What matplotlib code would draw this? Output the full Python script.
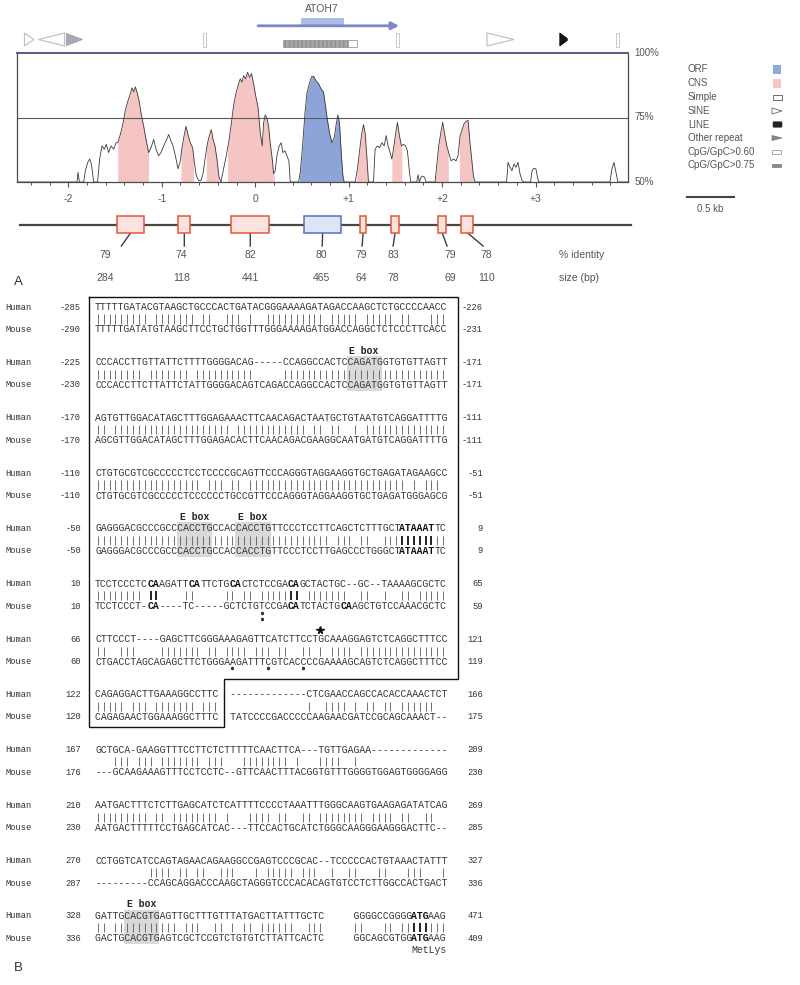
import numpy as np
import matplotlib
matplotlib.use('Agg')
import matplotlib.pyplot as plt
from matplotlib.patches import Rectangle, Polygon, FancyBboxPatch
from matplotlib import font_manager

# ---------------- panel A data ----------------
# human/mouse conservation profile: position (kb) and % identity
cons_kb = [-2.55, -1.907, -1.897, -1.882, -1.836, -1.818, -1.793, -1.772, -1.754, -1.729,
           -1.687, -1.666, -1.640, -1.615, -1.594, -1.569, -1.544, -1.515, -1.490, -1.472,
           -1.444, -1.415, -1.390, -1.365, -1.337, -1.319, -1.301, -1.283, -1.266, -1.241,
           -1.219, -1.194, -1.169, -1.141, -1.116, -1.087, -1.062, -1.034, -1.009, -0.980,
           -0.955, -0.927, -0.902, -0.880, -0.855, -0.827, -0.802, -0.784, -0.766, -0.741,
           -0.720, -0.695, -0.670, -0.652, -0.631, -0.606, -0.581, -0.559, -0.535, -0.510,
           -0.488, -0.470, -0.452, -0.431, -0.410, -0.388, -0.367, -0.338, -0.310, -0.285,
           -0.260, -0.231, -0.203, -0.178, -0.160, -0.142, -0.125, -0.103, -0.082, -0.060,
           -0.039, -0.018, 0.007, 0.029, 0.054, 0.075, 0.089, 0.107, 0.125, 0.143,
           0.160, 0.182, 0.196, 0.214, 0.232, 0.257, 0.278, 0.296, 0.318, 0.339,
           0.360, 0.375, 0.464, 0.482, 0.507, 0.532, 0.553, 0.578, 0.603, 0.624,
           0.649, 0.678, 0.703, 0.731, 0.767, 0.795, 0.820, 0.845, 0.866, 0.884,
           0.902, 0.920, 0.938, 0.952, 1.070, 1.094, 1.123, 1.141, 1.159, 1.176,
           1.194, 1.212, 1.266, 1.283, 1.308, 1.330, 1.355, 1.380, 1.401, 1.422,
           1.444, 1.462, 1.480, 1.501, 1.522, 1.544, 1.565, 1.587, 1.608, 1.629,
           1.651, 1.665, 1.729, 1.743, 1.757, 1.775, 1.793, 1.811, 1.829, 1.925,
           1.943, 1.964, 1.986, 2.007, 2.028, 2.050, 2.071, 2.096, 2.121, 2.150,
           2.171, 2.192, 2.214, 2.235, 2.257, 2.278, 2.299, 2.317, 2.335, 2.353,
           2.691, 2.706, 2.727, 2.748, 2.770, 2.791, 2.813, 2.834, 2.855, 2.877,
           2.948, 2.963, 2.984, 3.005, 3.020, 3.034, 3.797, 3.818, 3.840, 3.861,
           3.882, 3.99]
cons_pct = [50, 50, 53.8, 50, 50, 54.4, 57.6, 58.9, 57.0, 50,
            50, 58.9, 64.0, 62.7, 64.6, 61.4, 64.0, 62.7, 65.2, 65.2,
            68.4, 72.8, 77.9, 81.1, 84.3, 86.5, 84.9, 86.9, 84.9, 81.1,
            76.0, 71.6, 66.5, 61.4, 63.3, 66.5, 62.7, 60.2, 61.4, 64.0,
            65.9, 68.4, 65.9, 64.0, 60.2, 55.1, 58.2, 63.3, 67.1, 71.6,
            68.4, 65.2, 63.3, 57.6, 52.5, 50.6, 50.6, 53.2, 59.5, 65.2,
            68.4, 70.3, 66.5, 64.0, 58.9, 51.9, 50, 55.1, 60.2, 65.2,
            71.6, 79.8, 84.9, 88.1, 90.0, 88.7, 91.2, 90.0, 92.5, 90.6,
            92.0, 88.1, 83.0, 79.2, 69.0, 64.0, 72.8, 76.0, 74.7, 71.6,
            65.2, 58.9, 53.2, 54.4, 60.2, 64.0, 65.2, 61.4, 62.1, 60.2,
            58.2, 50, 50, 53.8, 64.0, 76.6, 84.3, 88.1, 90.8, 91.0,
            89.3, 88.1, 86.2, 84.9, 75.4, 69.0, 65.2, 67.1, 72.2, 76.0,
            72.8, 61.4, 52.5, 50, 50, 55.1, 64.0, 69.0, 72.2, 69.0,
            60.2, 50, 50, 62.7, 64.0, 63.3, 65.2, 64.0, 68.0, 64.0,
            61.4, 58.9, 62.7, 68.4, 73.1, 67.8, 64.0, 64.6, 64.0, 62.1,
            53.8, 50, 50, 52.8, 50, 51.9, 52.3, 51.9, 50, 50,
            56.3, 64.0, 69.0, 73.1, 68.4, 64.0, 61.4, 58.2, 58.9, 58.2,
            60.2, 67.8, 70.3, 72.6, 73.5, 73.9, 65.2, 58.9, 52.5, 50,
            50, 57.6, 55.7, 54.4, 57.0, 55.7, 57.6, 53.2, 50.6, 50,
            50, 54.4, 55.3, 55.1, 51.9, 50, 50, 55.1, 57.6, 53.8,
            50, 50]

# shaded regions of the profile
fill_start = [-1.472, -0.795, -0.524, -0.296, 0.474, 1.087, 1.462, 1.925, 2.185]
fill_end = [-1.141, -0.660, -0.392, 0.203, 0.945, 1.212, 1.569, 2.067, 2.335]
fill_kind = ['CNS', 'CNS', 'CNS', 'CNS', 'ORF', 'CNS', 'CNS', 'CNS', 'CNS']

# conserved blocks drawn on the track below
box_start = [-1.476, -0.824, -0.257, 0.524, 1.123, 1.455, 1.957, 2.203]
box_end = [-1.187, -0.695, 0.150, 0.920, 1.187, 1.540, 2.043, 2.332]
box_kind = ['CNS', 'CNS', 'CNS', 'ORF', 'CNS', 'CNS', 'CNS', 'CNS']
box_identity = [79, 74, 82, 80, 79, 83, 79, 78]
box_size = [284, 118, 441, 465, 64, 78, 69, 110]

# gene and repeat annotation
gene_name = 'ATOH7'
gene_start, gene_end = 0.03, 1.54
orf_start, orf_end = 0.49, 0.94
rep_kind = ['SINE', 'SINE_rev', 'Other', 'Simple', 'CpG75', 'CpG60', 'Simple', 'SINE', 'LINE', 'Simple']
rep_start = [-2.47, -2.32, -2.02, -0.56, 0.30, 0.995, 1.51, 2.48, 3.26, 3.86]
rep_end = [-2.37, -2.04, -1.85, -0.53, 0.995, 1.09, 1.54, 2.77, 3.34, 3.89]

legend_labels = ['ORF', 'CNS', 'Simple', 'SINE', 'LINE', 'Other repeat', 'CpG/GpC>0.60', 'CpG/GpC>0.75']

# ---------------- panel B data ----------------
human_rows = [
    "TTTTTGATACGTAAGCTGCCCACTGATACGGGAAAAGATAGACCAAGCTCTGCCCCAACC",
    "CCCACCTTGTTATTCTTTTGGGGACAG-----CCAGGCCACTCCAGATGGTGTGTTAGTT",
    "AGTGTTGGACATAGCTTTGGAGAAACTTCAACAGACTAATGCTGTAATGTCAGGATTTTG",
    "CTGTGCGTCGCCCCCTCCTCCCCGCAGTTCCCAGGGTAGGAAGGTGCTGAGATAGAAGCC",
    "GAGGGACGCCCGCCCACCTGCCACCACCTGTTCCCTCCTTCAGCTCTTTGCTATAAATTC",
    "TCCTCCCTCCAAGATTCATTCTGCACTCTCCGACAGCTACTGC--GC--TAAAAGCGCTC",
    "CTTCCCT----GAGCTTCGGGAAAGAGTTCATCTTCCTGCAAAGGAGTCTCAGGCTTTCC",
    "CAGAGGACTTGAAAGGCCTTC  -------------CTCGAACCAGCCACACCAAACTCT",
    "GCTGCA-GAAGGTTTCCTTCTCTTTTTCAACTTCA---TGTTGAGAA-------------",
    "AATGACTTTCTCTTGAGCATCTCATTTTCCCCTAAATTTGGGCAAGTGAAGAGATATCAG",
    "CCTGGTCATCCAGTAGAACAGAAGGCCGAGTCCCGCAC--TCCCCCACTGTAAACTATTT",
    "GATTGCACGTGAGTTGCTTTGTTTATGACTTATTTGCTC     GGGGCCGGGGATGAAG",
]
mouse_rows = [
    "TTTTTGATATGTAAGCTTCCTGCTGGTTTGGGAAAAGATGGACCAGGCTCTCCCTTCACC",
    "CCCACCTTCTTATTCTATTGGGGACAGTCAGACCAGGCCACTCCAGATGGTGTGTTAGTT",
    "AGCGTTGGACATAGCTTTGGAGACACTTCAACAGACGAAGGCAATGATGTCAGGATTTTG",
    "CTGTGCGTCGCCCCCTCCCCCCTGCCGTTCCCAGGGTAGGAAGGTGCTGAGATGGGAGCG",
    "GAGGGACGCCCGCCCACCTGCCACCACCTGTTCCCTCCTTGAGCCCTGGGCTATAAATTC",
    "TCCTCCCT-CA----TC-----GCTCTGTCCGACATCTACTGCAAGCTGTCCAAACGCTC",
    "CTGACCTAGCAGAGCTTCTGGGAAGATTTCGTCACCCCGAAAAGCAGTCTCAGGCTTTCC",
    "CAGAGAACTGGAAAGGCTTTC  TATCCCCGACCCCCAAGAACGATCCGCAGCAAACT--",
    "---GCAAGAAAGTTTCCTCCTC--GTTCAACTTTACGGTGTTTGGGGTGGAGTGGGGAGG",
    "AATGACTTTTTCCTGAGCATCAC---TTCCACTGCATCTGGGCAAGGGAAGGGACTTC--",
    "---------CCAGCAGGACCCAAGCTAGGGTCCCACACAGTGTCCTCTTGGCCACTGACT",
    "GACTGCACGTGAGTCGCTCCGTCTGTGTCTTATTCACTC     GGCAGCGTGGATGAAG",
]
human_first = [-285, -225, -170, -110, -50, 10, 66, 122, 167, 210, 270, 328]
human_last = [-226, -171, -111, -51, 9, 65, 121, 166, 209, 269, 327, 471]
mouse_first = [-290, -230, -170, -110, -50, 10, 60, 120, 176, 230, 287, 336]
mouse_last = [-231, -171, -111, -51, 9, 59, 119, 175, 230, 285, 336, 409]

# bold stretches: block, species, first column, length
bold_block = [4, 4, 5, 5, 5, 5, 5, 5, 5, 11, 11]
bold_row = ['H', 'M', 'H', 'H', 'H', 'H', 'M', 'M', 'M', 'H', 'M']
bold_col = [52, 52, 9, 16, 23, 33, 9, 33, 42, 54, 54]
bold_len = [6, 6, 2, 2, 2, 2, 2, 2, 2, 3, 3]

# E boxes: block, first column
ebox_block = [1, 4, 4, 11]
ebox_col = [43, 14, 24, 5]

# asterisks under the mouse row (block, column, count) and star above human row
ast_block = [5, 6, 6, 6]
ast_col = [28, 23, 29, 35]
ast_count = [2, 1, 1, 1]
star_block, star_col = 6, 38

# ---------------- fonts ----------------
names = {f.name for f in font_manager.fontManager.ttflist}
SANS = 'Liberation Sans Narrow' if 'Liberation Sans Narrow' in names else 'Liberation Sans'
MONO = 'Liberation Mono'
plt.rcParams['font.family'] = [SANS, 'DejaVu Sans']
GREY = '#555555'

W, H = 800.0, 985.0
fig = plt.figure(figsize=(8.0, 9.85), dpi=100)
ax = fig.add_axes([0, 0, 1, 1])
ax.set_xlim(0, W)
ax.set_ylim(H, 0)
ax.axis('off')


def px_axes(x0, y0, x1, y1):
    return fig.add_axes([x0 / W, 1 - y1 / H, (x1 - x0) / W, (y1 - y0) / H])


XL = (-2.55, 3.99)

# ---------- annotation track (kb on x, pixels on y) ----------
ax_g = px_axes(17, 0, 628, 290)
ax_g.set_xlim(*XL)
ax_g.set_ylim(290, 0)
ax_g.axis('off')

ax_g.text((orf_start + orf_end) / 2, 9, gene_name, ha='center', va='center', fontsize=7.5, color=GREY)
ax_g.add_patch(Rectangle((orf_start, 18), orf_end - orf_start, 6.3, fc='#aabde6', ec='#9fb2de', lw=0.5))
ax_g.annotate('', xy=(gene_end, 25.8), xytext=(gene_start, 25.8),
              arrowprops=dict(arrowstyle='-|>', color='#7c86c9', lw=2.0, mutation_scale=11,
                              shrinkA=0, shrinkB=0))

for k, s, e in zip(rep_kind, rep_start, rep_end):
    if k == 'SINE':
        ax_g.add_patch(Polygon([(s, 33), (s, 46), (e, 39.5)], closed=True, fc='white', ec='#bdbdbd', lw=0.8))
    elif k == 'SINE_rev':
        ax_g.add_patch(Polygon([(e, 33), (e, 46), (s, 39.5)], closed=True, fc='white', ec='#bdbdbd', lw=0.8))
    elif k == 'Other':
        ax_g.add_patch(Polygon([(s, 33.5), (s, 45.5), (e, 39.5)], closed=True, fc='#a9a9b4', ec='#a0a0aa', lw=0.6))
    elif k == 'LINE':
        ax_g.add_patch(Polygon([(s, 33), (s, 46), (e, 40.5), (e, 38.5)], closed=True, fc='#151515', ec='#151515', lw=0.6))
    elif k == 'Simple':
        ax_g.add_patch(Rectangle((s, 32.5), e - s, 14.5, fc='white', ec='#c8c8c8', lw=0.7))
    elif k == 'CpG75':
        ax_g.add_patch(Rectangle((s, 40), e - s, 7, fc='#a8a8a8', ec='#8d8d8d', lw=0.5, hatch='||||'))
    elif k == 'CpG60':
        ax_g.add_patch(Rectangle((s, 40), e - s, 7, fc='white', ec='#9a9a9a', lw=0.6))

# block track
ax_g.plot([-2.52, 4.02], [224.5, 224.5], color='#4a4740', lw=1.6, clip_on=False, zorder=1)
label_kb = [-1.604, -0.791, -0.053, 0.706, 1.134, 1.476, 2.086, 2.471]
leader_end = [-1.433, -0.759, -0.053, 0.717, 1.144, 1.476, 2.053, 2.439]
for s, e, k, le in zip(box_start, box_end, box_kind, leader_end):
    if k == 'ORF':
        fc, ec = '#dfe4f6', '#5a6fc0'
    else:
        fc, ec = '#fde3df', '#e0583c'
    ax_g.add_patch(Rectangle((s, 215.5), e - s, 17, fc=fc, ec=ec, lw=1.1, zorder=2))
    ax_g.plot([(s + e) / 2, le], [232.5, 246], color='#3d3d3d', lw=1.0, zorder=1)
for lab, ident, size in zip(label_kb, box_identity, box_size):
    ax_g.text(lab, 255, str(ident), ha='center', va='center', fontsize=7.5, color=GREY)
    ax_g.text(lab, 278, str(size), ha='center', va='center', fontsize=7.5, color=GREY)
ax_g.text(3.25, 255, '% identity', ha='left', va='center', fontsize=7.5, color=GREY)
ax_g.text(3.25, 278, 'size (bp)', ha='left', va='center', fontsize=7.5, color=GREY)

# ---------- VISTA conservation profile ----------
ax_v = px_axes(17, 53, 628, 182)
kb = np.array(cons_kb)
pct = np.array(cons_pct)
fill_col = {'CNS': '#f5c5c3', 'ORF': '#8ea4d8'}
for s, e, k in zip(fill_start, fill_end, fill_kind):
    m = (kb > s) & (kb < e)
    xs = np.r_[s, kb[m], e]
    ys = np.r_[np.interp(s, kb, pct), pct[m], np.interp(e, kb, pct)]
    ax_v.fill_between(xs, 50, ys, color=fill_col[k], lw=0, zorder=1)
ax_v.plot(kb, pct, color='#3a3a3a', lw=0.6, zorder=3)
ax_v.axhline(75, color='#5a5a5a', lw=0.8, zorder=2)
ax_v.set_xlim(*XL)
ax_v.set_ylim(50, 100)
ax_v.set_yticks([])
ax_v.set_xticks(np.arange(-2, 4))
ax_v.set_xticklabels(['-2', '-1', '0', '+1', '+2', '+3'])
ax_v.set_xticks(np.arange(-2.4, 3.9, 0.2), minor=True)
ax_v.tick_params(axis='x', which='major', length=3.5, width=0.8, color=GREY,
                 labelsize=7.5, labelcolor=GREY, pad=5)
ax_v.tick_params(axis='x', which='minor', length=2.5, width=0.7, color=GREY)
for side in ['left', 'right', 'bottom']:
    ax_v.spines[side].set_color('#4a4a4a')
    ax_v.spines[side].set_linewidth(0.9)
ax_v.spines['top'].set_color('#46507a')
ax_v.spines['top'].set_linewidth(1.3)
yt = ax_v.get_yaxis_transform()
for v in [100, 75, 50]:
    ax_v.text(1.01, v, '%d%%' % v, transform=yt, ha='left', va='center', fontsize=7, color=GREY)

# ---------- legend ----------
leg_y = [69, 83.5, 97.5, 111, 124.5, 138, 152, 165.5]
for lab, y in zip(legend_labels, leg_y):
    ax.text(688, y, lab, ha='left', va='center', fontsize=7, color=GREY)
ax.add_patch(Rectangle((773, leg_y[0] - 4.5), 8, 9, fc='#8fa9dc', ec='none'))
ax.add_patch(Rectangle((773, leg_y[1] - 4.5), 8, 9, fc='#f6c6c6', ec='none'))
ax.add_patch(Rectangle((772.5, leg_y[2] - 2.5), 9, 5, fc='white', ec='#555', lw=0.6))
ax.add_patch(Polygon([(772, leg_y[3] - 3), (772, leg_y[3] + 3), (782, leg_y[3])], closed=True, fc='white', ec='#666', lw=0.6))
ax.add_patch(FancyBboxPatch((774, leg_y[4] - 1.8), 7, 3.6, boxstyle='round,pad=0.6', fc='#222', ec='#222'))
ax.add_patch(Polygon([(772, leg_y[5] - 2.5), (772, leg_y[5] + 2.5), (782, leg_y[5])], closed=True, fc='#888', ec='#777', lw=0.5))
ax.add_patch(Rectangle((772, leg_y[6] - 1.7), 9, 3.4, fc='white', ec='#999', lw=0.6))
ax.add_patch(Rectangle((772, leg_y[7] - 1.7), 9, 3.4, fc='#8a8a8a', ec='#7a7a7a', lw=0.5))
ax.plot([687, 734], [197, 197], color='#444', lw=1.5)
ax.text(710, 208.5, '0.5 kb', ha='center', va='center', fontsize=7, color=GREY)

ax.text(18, 282, 'A', ha='center', va='center', fontsize=9.5, color='#333')
ax.text(18, 968, 'B', ha='center', va='center', fontsize=9.5, color='#333')

# ---------- alignment ----------
x0 = 95.0
cw = 5.85
fs_seq = cw / 0.6001 * 72 / 100
fs_lab = 6.3
row_y0 = 307.0
row_step = 55.35
SEQC = '#333333'


def yh_of(b):
    return row_y0 + b * row_step


bold = {}
for b, r, c, n in zip(bold_block, bold_row, bold_col, bold_len):
    bold.setdefault((b, r), set()).update(range(c, c + n))


def draw_seq(s, y, bcols):
    i = 0
    while i < len(s):
        isb = i in bcols
        j = i
        while j < len(s) and (j in bcols) == isb:
            j += 1
        run = s[i:j]
        if run.strip():
            ax.text(x0 + i * cw, y, run, ha='left', va='center', fontsize=fs_seq,
                    family=MONO, fontweight='bold' if isb else 'normal',
                    color='#111' if isb else SEQC)
        i = j


# E-box shading
for b, c in zip(ebox_block, ebox_col):
    yh = yh_of(b)
    ax.add_patch(Rectangle((x0 + c * cw, yh - 6), 6 * cw, 34.5, fc='#d9d9d9', ec='none', zorder=0))
    ax.text(x0 + (c + 3) * cw, yh - 11.5, 'E box', ha='center', va='center', fontsize=fs_seq,
            family=MONO, fontweight='bold', color='#222')

for b, (h, m) in enumerate(zip(human_rows, mouse_rows)):
    yh = yh_of(b)
    ym = yh + 22.5
    ybar = yh + 12
    ax.text(5, yh, 'Human', ha='left', va='center', fontsize=fs_lab, family=MONO, color=SEQC)
    ax.text(5, ym, 'Mouse', ha='left', va='center', fontsize=fs_lab, family=MONO, color=SEQC)
    ax.text(81, yh, str(human_first[b]), ha='right', va='center', fontsize=fs_lab, family=MONO, color=SEQC)
    ax.text(81, ym, str(mouse_first[b]), ha='right', va='center', fontsize=fs_lab, family=MONO, color=SEQC)
    ax.text(483, yh, str(human_last[b]), ha='right', va='center', fontsize=fs_lab, family=MONO, color=SEQC)
    ax.text(483, ym, str(mouse_last[b]), ha='right', va='center', fontsize=fs_lab, family=MONO, color=SEQC)
    hb = bold.get((b, 'H'), set())
    mb = bold.get((b, 'M'), set())
    draw_seq(h, yh, hb)
    draw_seq(m, ym, mb)
    match = [i for i, (a, c) in enumerate(zip(h, m)) if a == c and a in 'ACGT']
    thin = [i for i in match if not (i in hb and i in mb)]
    thick = [i for i in match if i in hb and i in mb]
    ax.vlines(x0 + (np.array(thin) + 0.5) * cw, ybar - 4.6, ybar + 4.6, color='#5a5a5a', lw=0.6)
    if thick:
        ax.vlines(x0 + (np.array(thick) + 0.5) * cw, ybar - 4.6, ybar + 4.6, color='#111', lw=1.3)

# asterisks (drawn as markers), star and MetLys
for b, c, n in zip(ast_block, ast_col, ast_count):
    ym = yh_of(b) + 22.5
    for k in range(n):
        ax.plot(x0 + (c + 0.5) * cw, ym + 6.5 + 6 * k, marker=(6, 2, 0), ms=2.5,
                mew=0.45, color=SEQC, ls='none')
ax.plot(x0 + (star_col + 0.5) * cw, yh_of(star_block) - 9.5, marker='*', ms=5.5,
        color='#111', mec='#111', ls='none')
ax.text(x0 + 54 * cw, yh_of(11) + 22.5 + 11.5, 'MetLys', ha='left', va='center', fontsize=fs_seq, family=MONO, color=SEQC)

# box around the promoter region
left = x0 - 6
right = x0 + 60 * cw + 12
notch = x0 + 22 * cw
top = yh_of(0) - 10
mid = yh_of(6) + 22.5 + 17
bot = yh_of(7) + 22.5 + 10
ax.plot([left, right, right, notch, notch, left, left],
        [top, top, mid, mid, bot, bot, top], color='#111', lw=1.0, solid_joinstyle='miter')

fig.savefig('out.png', dpi=100)
